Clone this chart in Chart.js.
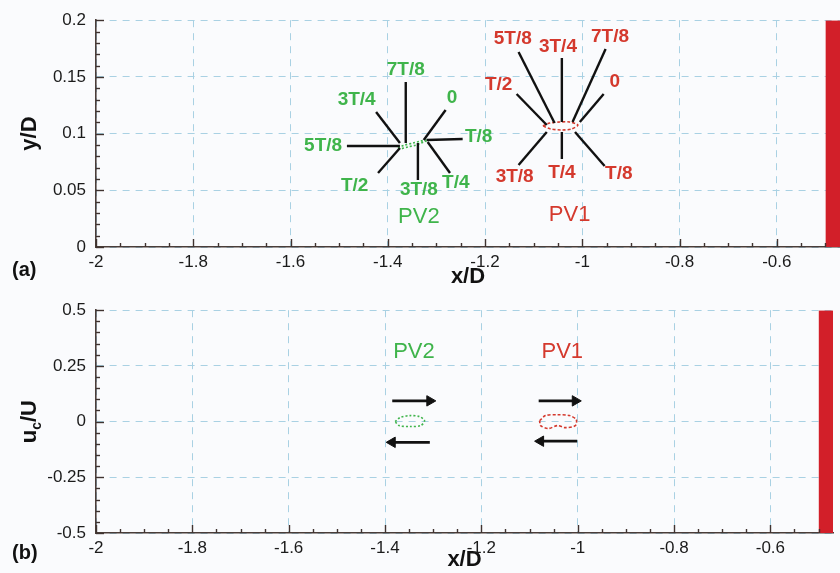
<!DOCTYPE html>
<html>
<head>
<meta charset="utf-8">
<script src="https://cdn.jsdelivr.net/npm/chart.js@4"></script>
<style>
  html, body { margin: 0; padding: 0; background: #fafbfd; }
  #wrap { position: relative; width: 840px; height: 573px; }
  .panel { position: absolute; left: 0; width: 840px; }
</style>
</head>
<body>
<div id="wrap">
  <div class="panel" style="top:0;height:290px"><canvas id="chartA" width="840" height="290"></canvas></div>
  <div class="panel" style="top:290px;height:283px"><canvas id="chartB" width="840" height="283"></canvas></div>
</div>
<script>
// axes
const xMin = -2, xMax = -0.47, wallX = -0.5;
const xTicks = [-2, -1.8, -1.6, -1.4, -1.2, -1, -0.8, -0.6];
const xTickLabels = ['-2', '-1.8', '-1.6', '-1.4', '-1.2', '-1', '-0.8', '-0.6'];
const xMinorStep = 0.05;
const yTicksA = [0, 0.05, 0.1, 0.15, 0.2];
const yTickLabelsA = ['0', '0.05', '0.1', '0.15', '0.2'];
const yMinorStepA = 0.01;
const yTicksB = [-0.5, -0.25, 0, 0.25, 0.5];
const yTickLabelsB = ['-0.5', '-0.25', '0', '0.25', '0.5'];
const yMinorStepB = 0.05;

// phase rays, order matches phases
const phases = ['0', 'T/8', 'T/4', '3T/8', 'T/2', '5T/8', '3T/4', '7T/8'];
const pv2RayInner = [[-1.326, 0.0944], [-1.320, 0.0944], [-1.318, 0.0926], [-1.338, 0.0917],
                     [-1.375, 0.0873], [-1.375, 0.0891], [-1.375, 0.0917], [-1.363, 0.0917]];
const pv2RayOuter = [[-1.281, 0.1208], [-1.246, 0.0952], [-1.272, 0.0653], [-1.338, 0.0591],
                     [-1.420, 0.0653], [-1.484, 0.0891], [-1.424, 0.1190], [-1.363, 0.1455]];
const pv2LabelAt  = [[-1.268, 0.1314], [-1.213, 0.0970], [-1.260, 0.0564], [-1.336, 0.0503],
                     [-1.468, 0.0538], [-1.533, 0.0891], [-1.464, 0.1296], [-1.363, 0.1561]];
const pv1RayInner = [[-1.005, 0.1102], [-1.015, 0.1014], [-1.042, 0.1014], [-1.073, 0.1014],
                     [-1.073, 0.1076], [-1.057, 0.1093], [-1.042, 0.1102], [-1.020, 0.1102]];
const pv1RayOuter = [[-0.956, 0.1349], [-0.954, 0.0714], [-1.042, 0.0776], [-1.131, 0.0723],
                     [-1.135, 0.1349], [-1.131, 0.1720], [-1.042, 0.1667], [-0.952, 0.1746]];
const pv1LabelAt  = [[-0.933, 0.1455], [-0.925, 0.0644], [-1.042, 0.0653], [-1.139, 0.0617],
                     [-1.172, 0.1429], [-1.143, 0.1834], [-1.050, 0.1764], [-0.943, 0.1852]];

// vortex core trajectories
const pv2OrbitA = [[-1.379, 0.0873], [-1.365, 0.0899], [-1.348, 0.0917], [-1.332, 0.0935], [-1.318, 0.0944],
                   [-1.326, 0.0926], [-1.342, 0.0899], [-1.359, 0.0882], [-1.375, 0.0864], [-1.379, 0.0873]];
const pv1OrbitA = [[-1.081, 0.1067], [-1.067, 0.1093], [-1.046, 0.1102], [-1.026, 0.1102], [-1.009, 0.1076],
                   [-1.022, 0.1041], [-1.042, 0.1032], [-1.065, 0.1041], [-1.081, 0.1067]];
const pv2OrbitB = [[-1.379, 0.000], [-1.369, 0.018], [-1.348, 0.027], [-1.328, 0.022], [-1.318, 0.004],
                   [-1.326, -0.018], [-1.348, -0.022], [-1.371, -0.018], [-1.379, 0.000]];
const pv1OrbitB = [[-1.079, 0.004], [-1.067, 0.027], [-1.042, 0.031], [-1.017, 0.027], [-1.003, 0.009],
                   [-1.005, -0.018], [-1.026, -0.027], [-1.042, -0.018], [-1.061, -0.031], [-1.077, -0.018], [-1.079, 0.004]];

// convection arrows (start, end)
const pv2ArrowRight = [[-1.385, 0.093], [-1.307, 0.093]];
const pv2ArrowLeft  = [[-1.307, -0.093], [-1.385, -0.093]];
const pv1ArrowRight = [[-1.081, 0.093], [-1.005, 0.093]];
const pv1ArrowLeft  = [[-1.001, -0.088], [-1.077, -0.088]];

const pvNames = ['PV2', 'PV1'];
const pvNameAtA = [[-1.336, 0.0265], [-1.026, 0.0282]];
const pvNameAtB = [[-1.340, 0.311], [-1.032, 0.311]];

const GREEN = '#3fb44b';
const RED = '#d4392d';
const WALL = '#d21f29';
const FONT = '"Liberation Sans", Arial, sans-serif';

function buildTicks(major, labels, step, min, max) {
  const out = [];
  const n = Math.round((max - min) / step);
  for (let i = 0; i <= n; i++) {
    const v = +(min + i * step).toFixed(4);
    const k = major.findIndex(m => Math.abs(m - v) < 1e-6);
    out.push({ value: v, isMajor: k >= 0, text: k >= 0 ? labels[k] : '' });
  }
  return out;
}

const pts = arr => arr.map(p => ({ x: p[0], y: p[1] }));

function rayDatasets(inner, outer) {
  return inner.map((p, i) => ({
    data: pts([p, outer[i]]), showLine: true, borderColor: '#111', borderWidth: 2.4, pointRadius: 0
  }));
}

function orbit(data, color, dash) {
  return { data: pts(data), showLine: true, borderColor: color, borderWidth: 1.6,
           borderDash: dash, pointRadius: 0, tension: 0.3 };
}

function arrow(data, dir) {
  return { data: pts(data), showLine: true, borderColor: '#111', borderWidth: 2.8,
           pointStyle: 'triangle', pointRadius: [0, 6], pointRotation: [0, dir],
           pointBackgroundColor: '#111', pointBorderColor: '#111', pointBorderWidth: 1 };
}

function wall(yTop) {
  return { data: pts([[wallX, yTop], [xMax + 0.05, yTop]]), showLine: true, borderWidth: 0,
           borderColor: WALL, backgroundColor: WALL, fill: 'start', pointRadius: 0 };
}

function overlay(items, panelTag, yTitle, xt, yt) {
  return {
    id: 'overlay',
    afterDraw(chart) {
      const { ctx, chartArea: a, scales: { x, y } } = chart;
      ctx.save();
      // inward tick marks, long at labelled ticks
      ctx.setLineDash([]);
      ctx.strokeStyle = '#3f3330';
      ctx.lineWidth = 1.4;
      xt.forEach(t => {
        const px = Math.round(x.getPixelForValue(t.value)) + 0.5;
        ctx.beginPath(); ctx.moveTo(px, a.bottom); ctx.lineTo(px, a.bottom - (t.isMajor ? 8 : 4)); ctx.stroke();
      });
      yt.forEach(t => {
        const py = Math.round(y.getPixelForValue(t.value)) + 0.5;
        ctx.beginPath(); ctx.moveTo(a.left, py); ctx.lineTo(a.left + (t.isMajor ? 8 : 4), py); ctx.stroke();
      });

      ctx.textAlign = 'center';
      ctx.textBaseline = 'middle';
      items.forEach(it => {
        ctx.font = it.font;
        ctx.fillStyle = it.color;
        ctx.fillText(it.text, x.getPixelForValue(it.at[0]), y.getPixelForValue(it.at[1]));
      });
      ctx.fillStyle = '#111';
      ctx.font = 'bold 20px ' + FONT;
      ctx.textAlign = 'left';
      ctx.fillText(panelTag, 12, chart.height - 20);
      // rotated y title, with optional subscript
      ctx.translate(30, (a.top + a.bottom) / 2);
      ctx.rotate(-Math.PI / 2);
      const big = 'bold 22px ' + FONT, small = 'bold 14px ' + FONT;
      ctx.font = big; const w1 = ctx.measureText(yTitle[0]).width;
      ctx.font = small; const w2 = yTitle[1] ? ctx.measureText(yTitle[1]).width : 0;
      ctx.font = big; const w3 = ctx.measureText(yTitle[2]).width;
      let cx = -(w1 + w2 + w3) / 2;
      ctx.font = big; ctx.fillText(yTitle[0], cx, 0); cx += w1;
      if (yTitle[1]) { ctx.font = small; ctx.fillText(yTitle[1], cx, 7); cx += w2; }
      ctx.font = big; ctx.fillText(yTitle[2], cx, 0);
      ctx.restore();
    }
  };
}

function makeChart(id, cfg) {
  const xt = buildTicks(xTicks, xTickLabels, xMinorStep, xMin, wallX);
  const yt = buildTicks(cfg.yTicks, cfg.yLabels, cfg.yStep, cfg.yMin, cfg.yMax);
  const gridColor = c => (c.tick && c.tick.isMajor ? '#a9d1e3' : 'rgba(0,0,0,0)');
  return new Chart(document.getElementById(id), {
    type: 'scatter',
    data: { datasets: cfg.datasets },
    options: {
      responsive: false,
      animation: false,
      layout: { padding: { top: cfg.padTop, right: 0, left: 0, bottom: 0 } },
      plugins: { legend: { display: false }, tooltip: { enabled: false } },
      scales: {
        x: {
          type: 'linear', min: xMin, max: xMax,
          afterBuildTicks: s => { s.ticks = xt.map(t => ({ ...t })); },
          afterFit: s => { s.height = cfg.xAxisH; },
          ticks: {
            autoSkip: false, maxRotation: 0, minRotation: 0, padding: 5,
            color: '#1b1b1b', font: { family: FONT, size: 17 },
            callback: (v, i) => xt[i] ? xt[i].text : ''
          },
          grid: { color: gridColor, lineWidth: 1, drawTicks: false },
          border: { display: true, color: '#4a3d39', width: 1.6, dash: [7, 6] },
          title: { display: true, text: 'x/D', color: '#111', padding: 0,
                   font: { family: FONT, size: 22, weight: 'bold' } }
        },
        y: {
          type: 'linear', min: cfg.yMin, max: cfg.yMax,
          afterBuildTicks: s => { s.ticks = yt.map(t => ({ ...t })); },
          afterFit: s => { s.width = 96; },
          ticks: {
            autoSkip: false, padding: 10,
            color: '#1b1b1b', font: { family: FONT, size: 17 },
            callback: (v, i) => yt[i] ? yt[i].text : ''
          },
          grid: { color: gridColor, lineWidth: 1, drawTicks: false },
          border: { display: true, color: '#4a3d39', width: 1.6, dash: [7, 6] }
        }
      }
    },
    plugins: [overlay(cfg.texts, cfg.tag, cfg.yTitle, xt, yt)]
  });
}

const labelFont = 'bold 19px ' + FONT;
const nameFont = '22px ' + FONT;

const textsA = [
  ...phases.map((p, i) => ({ text: p, at: pv2LabelAt[i], color: GREEN, font: labelFont })),
  ...phases.map((p, i) => ({ text: p, at: pv1LabelAt[i], color: RED, font: labelFont })),
  { text: pvNames[0], at: pvNameAtA[0], color: GREEN, font: nameFont },
  { text: pvNames[1], at: pvNameAtA[1], color: RED, font: nameFont }
];
const textsB = [
  { text: pvNames[0], at: pvNameAtB[0], color: GREEN, font: nameFont },
  { text: pvNames[1], at: pvNameAtB[1], color: RED, font: nameFont }
];

makeChart('chartA', {
  yTicks: yTicksA, yLabels: yTickLabelsA, yStep: yMinorStepA, yMin: 0, yMax: 0.2,
  padTop: 20, xAxisH: 43, tag: '(a)', yTitle: ['y/D', '', ''], texts: textsA,
  datasets: [
    wall(0.2),
    ...rayDatasets(pv2RayInner, pv2RayOuter),
    ...rayDatasets(pv1RayInner, pv1RayOuter),
    orbit(pv2OrbitA, GREEN, [2, 2]),
    orbit(pv1OrbitA, RED, [3, 2])
  ]
});

makeChart('chartB', {
  yTicks: yTicksB, yLabels: yTickLabelsB, yStep: yMinorStepB, yMin: -0.5, yMax: 0.5,
  padTop: 18, xAxisH: 40, tag: '(b)', yTitle: ['u', 'c', '/U'], texts: textsB,
  datasets: [
    wall(0.5),
    arrow(pv2ArrowRight, 90), arrow(pv2ArrowLeft, -90),
    arrow(pv1ArrowRight, 90), arrow(pv1ArrowLeft, -90),
    orbit(pv2OrbitB, GREEN, [2, 2]),
    orbit(pv1OrbitB, RED, [3, 2])
  ]
});
</script>
</body>
</html>
